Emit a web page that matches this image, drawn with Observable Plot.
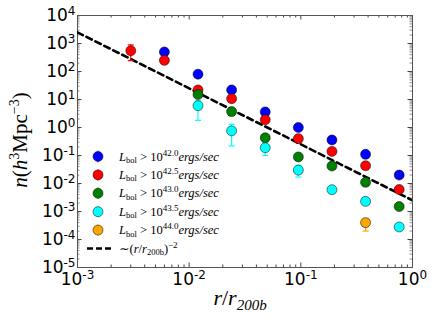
<!DOCTYPE html>
<html>
<head>
<meta charset="utf-8">
<script src="https://cdn.jsdelivr.net/npm/d3@7"></script>
<script src="https://cdn.jsdelivr.net/npm/@observablehq/plot@0.6"></script>
<style>
  html, body { margin: 0; padding: 0; background: #fff; }
  #chart { width: 436px; height: 322px; }
</style>
</head>
<body>
<div id="chart"></div>
<script>
// ---- data ----
const radii = [0.003, 0.006, 0.012, 0.024, 0.048, 0.095, 0.19, 0.38, 0.76];
const seriesNames = ["42.0", "42.5", "43.0", "43.5", "44.0"];
const seriesColors = ["#0000ff", "#ff0000", "#008000", "#00ffff", "#ffa500"];
const nL420 = [null, 500, 80, 22, 3.6, 1.0, 0.36, 0.11, 0.02];
const nL425 = [550, 250, 22, 10.7, 1.9, 0.4, 0.14, 0.043, 0.0061];
const nL430 = [null, null, 15, 3.7, 0.43, 0.089, 0.042, 0.011, 0.0015];
const nL435 = [null, null, 6, 0.76, 0.19, 0.03, 0.006, 0.0023, 0.00028];
const nL440 = [null, null, null, null, null, null, null, 0.0004, null];
// error bar bounds [lo, hi] (null where hidden behind the marker)
const errL420 = [null, null, null, null, null, null, null, null, null];
const errL425 = [[245, 890], null, null, null, null, null, null, null, null];
const errL430 = [null, null, null, null, null, null, null, null, null];
const errL435 = [null, null, [1.8, 9], [0.22, 1.3], [0.1, 0.3], [0.017, 0.045], null, null, null];
const errL440 = [null, null, null, null, null, null, null, [0.0002, 0.00055], null];
// power-law guide ~ (r/r200b)^-2, endpoints
const guideX = [0.001, 1];
const guideY = [2500, 0.0025];
const xTicks = [1e-3, 1e-2, 1e-1, 1];
const yTicks = [1e-5, 1e-4, 1e-3, 1e-2, 1e-1, 1, 1e1, 1e2, 1e3, 1e4];

// ---- build tables ----
const allN = [nL420, nL425, nL430, nL435, nL440];
const allE = [errL420, errL425, errL430, errL435, errL440];
const points = [];
const errs = [];
allN.forEach((arr, si) => arr.forEach((v, i) => {
  if (v != null) points.push({x: radii[i], y: v, s: seriesNames[si]});
  const e = allE[si][i];
  if (e) errs.push({x: radii[i], lo: e[0], hi: e[1], s: seriesNames[si]});
}));
const caps = errs.flatMap(d => [{x: d.x, y: d.lo, s: d.s}, {x: d.x, y: d.hi, s: d.s}]);
const guide = guideX.map((x, i) => ({x, y: guideY[i]}));

const decadesMinor = (lo, hi) => {
  const out = [];
  for (let e = lo; e < hi; e++) for (let k = 2; k <= 9; k++) out.push(k * Math.pow(10, e));
  return out;
};
const xMinor = decadesMinor(-3, 0);
const yMinor = decadesMinor(-5, 4);

const W = 436, H = 322, ML = 77, MR = 24, MT = 15, MB = 55;
const PW = W - ML - MR, PH = H - MT - MB;
const majorLen = 4.5, minorLen = 2.5;

const capSymbol = {
  draw(context, size) {
    const r = Math.sqrt(size / Math.PI);
    context.moveTo(-r, 0);
    context.lineTo(r, 0);
  }
};

const tickStroke = "#444";
const chart = Plot.plot({
  width: W, height: H,
  marginLeft: ML, marginRight: MR, marginTop: MT, marginBottom: MB,
  style: {fontFamily: "DejaVu Sans, sans-serif", background: "#fff"},
  x: {type: "log", domain: [1e-3, 1]},
  y: {type: "log", domain: [1e-5, 1e4]},
  color: {type: "ordinal", domain: seriesNames, range: seriesColors},
  marks: [
    Plot.axisX(xTicks, {tickSize: 0, tickPadding: 5, fontSize: 17, tickFormat: d => String(Math.round(Math.log10(d))), label: null}),
    Plot.axisY(yTicks, {tickSize: 0, tickPadding: 2, fontSize: 17, tickFormat: d => String(Math.round(Math.log10(d))), label: null}),
    // inward ticks, all four sides
    Plot.tickX(xTicks, {x: d => d, insetTop: PH - majorLen, stroke: tickStroke}),
    Plot.tickX(xTicks, {x: d => d, insetBottom: PH - majorLen, stroke: tickStroke}),
    Plot.tickX(xMinor, {x: d => d, insetTop: PH - minorLen, stroke: tickStroke}),
    Plot.tickX(xMinor, {x: d => d, insetBottom: PH - minorLen, stroke: tickStroke}),
    Plot.tickY(yTicks, {y: d => d, insetRight: PW - majorLen, stroke: tickStroke}),
    Plot.tickY(yTicks, {y: d => d, insetLeft: PW - majorLen, stroke: tickStroke}),
    Plot.tickY(yMinor, {y: d => d, insetRight: PW - minorLen, stroke: tickStroke, strokeWidth: 0.6}),
    Plot.tickY(yMinor, {y: d => d, insetLeft: PW - minorLen, stroke: tickStroke, strokeWidth: 0.6}),
    Plot.frame({stroke: "#555", strokeWidth: 1}),
    Plot.line(guide, {x: "x", y: "y", stroke: "black", strokeWidth: 2.6, strokeDasharray: "6,4", clip: true}),
    Plot.ruleX(errs, {x: "x", y1: "lo", y2: "hi", stroke: "s", strokeWidth: 1.2}),
    Plot.dot(caps, {x: "x", y: "y", symbol: capSymbol, r: 3, stroke: "s", fill: "none", strokeWidth: 1.2}),
    Plot.dot(points, {x: "x", y: "y", fill: "s", stroke: "black", strokeWidth: 0.5, r: 5})
  ]
});
document.getElementById("chart").appendChild(chart);

const svg = d3.select(chart);
// superscript tick labels: 10^k
svg.selectAll('g[aria-label="x-axis tick label"] text, g[aria-label="y-axis tick label"] text').each(function() {
  const t = d3.select(this);
  const exp = t.text();
  t.text(null);
  t.append("tspan").text("10");
  t.append("tspan").attr("dy", "-0.5em").attr("font-size", "12px").text(exp);
});

const serif = "Liberation Serif, DejaVu Serif, serif";

// y label
const yl = svg.append("text")
  .attr("transform", "translate(27,140) rotate(-90)")
  .attr("text-anchor", "middle")
  .attr("font-family", serif).attr("font-size", 21);
yl.append("tspan").attr("font-style", "italic").text("n");
yl.append("tspan").text("(");
yl.append("tspan").attr("font-style", "italic").text("h");
yl.append("tspan").attr("font-size", 14).attr("dy", -8).text("3");
yl.append("tspan").attr("dy", 8).text("Mpc");
yl.append("tspan").attr("font-size", 14).attr("dy", -8).text("\u22123");
yl.append("tspan").attr("dy", 8).text(")");

// x label
const xl = svg.append("text")
  .attr("x", 240).attr("y", 305)
  .attr("text-anchor", "middle")
  .attr("font-family", serif).attr("font-size", 22);
xl.append("tspan").attr("font-style", "italic").text("r");
xl.append("tspan").text("/");
xl.append("tspan").attr("font-style", "italic").text("r");
xl.append("tspan").attr("font-style", "italic").attr("font-size", 15).attr("dy", 5).text("200b");

// legend
const lg = svg.append("g").attr("font-family", serif).attr("font-size", 12.5).attr("text-anchor", "start");
const rowY0 = 156.5, rowDy = 18.4, mx = 98, tx = 119;
seriesNames.forEach((name, i) => {
  const y = rowY0 + i * rowDy;
  lg.append("line").attr("x1", mx).attr("x2", mx).attr("y1", y - 6).attr("y2", y + 6)
    .attr("stroke", seriesColors[i]).attr("stroke-opacity", 0.5).attr("stroke-width", 1.2);
  lg.append("circle").attr("cx", mx).attr("cy", y).attr("r", 5)
    .attr("fill", seriesColors[i]).attr("stroke", "black").attr("stroke-width", 0.5);
  const t = lg.append("text").attr("x", tx).attr("y", y + 4).attr("text-anchor", "start");
  t.append("tspan").attr("font-style", "italic").text("L");
  t.append("tspan").attr("font-size", 8.5).attr("dy", 2.5).text("bol");
  t.append("tspan").attr("dy", -2.5).text(" > 10");
  t.append("tspan").attr("font-size", 9).attr("dy", -5).text(name);
  t.append("tspan").attr("dy", 5).attr("font-style", "italic").text("ergs/sec");
});
{
  const y = rowY0 + 5 * rowDy;
  lg.append("line").attr("x1", 87).attr("x2", 111).attr("y1", y).attr("y2", y)
    .attr("stroke", "black").attr("stroke-width", 2.6).attr("stroke-dasharray", "6,3");
  const t = lg.append("text").attr("x", tx).attr("y", y + 4).attr("text-anchor", "start");
  t.append("tspan").text("\u223C(");
  t.append("tspan").attr("font-style", "italic").text("r");
  t.append("tspan").text("/");
  t.append("tspan").attr("font-style", "italic").text("r");
  t.append("tspan").attr("font-size", 8.5).attr("dy", 2.5).text("200b");
  t.append("tspan").attr("dy", -2.5).text(")");
  t.append("tspan").attr("font-size", 9).attr("dy", -5).text("\u22122");
}
</script>
</body>
</html>
